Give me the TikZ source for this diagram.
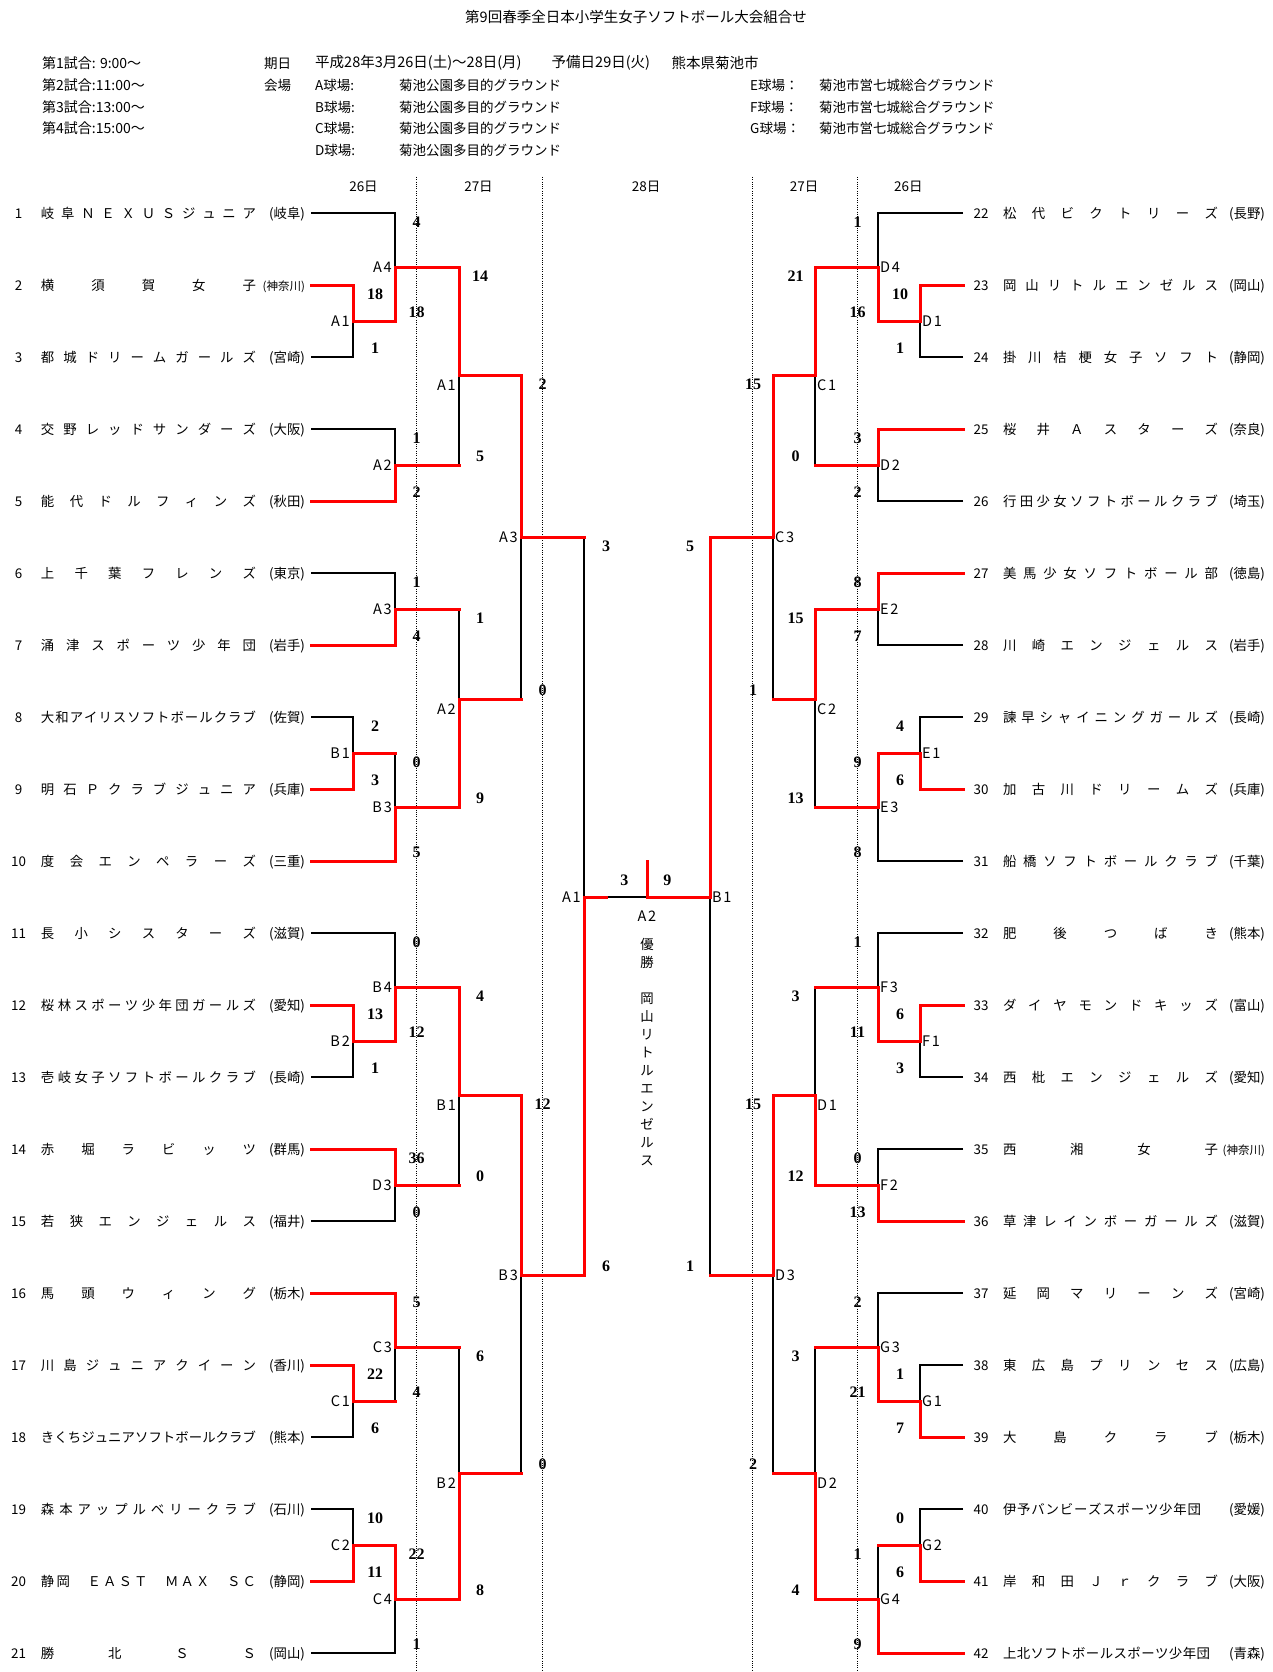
\documentclass[tikz,border=0pt]{standalone}
\usepackage{fontspec}
\setmainfont{Noto Sans CJK JP}
\newfontfamily\scorefont{Liberation Serif}
\newfontfamily\lblfont[LetterSpace=12]{Noto Sans CJK JP}

% spread the letters of a name over the box
\makeatletter
\def\spreadtext#1{\spread@first#1\@nil}
\def\spread@first#1{#1\spread@next}
\def\spread@next#1{\ifx#1\@nil\else\hfill#1\expandafter\spread@next\fi}
\makeatother
\newcommand\smallpref{\fontsize{11.5}{12}\selectfont}
\newcommand\lname[3]{\makebox[299.5pt][s]{\makebox[14pt]{#1}\hspace{15.5pt}\makebox[215pt][s]{\spreadtext{#2}}\hfill#3\hspace{6pt}}}
\newcommand\rname[4][215pt]{\makebox[302pt][s]{\hspace{11pt}\makebox[14pt]{#2}\hspace{15pt}\makebox[#1][s]{\spreadtext{#3}}\hfill#4}}

\begin{document}
\begin{tikzpicture}[x=1pt, y=-1pt,
	won/.style={draw=red, line width=3pt, line cap=rect},
	lost/.style={draw=black, line width=1.7pt},
	guide/.style={draw=black, line width=0.7pt, dash pattern=on 1pt off 1.3pt},
	team/.style={inner sep=0pt, outer sep=0pt, font=\fontsize{13.4}{14}\selectfont, text height=11.8pt, text depth=1.6pt},
	hdr/.style={inner sep=0pt, font=\fontsize{13.5}{16}\selectfont},
	pts/.style={inner sep=0pt, font={\scorefont\bfseries\fontsize{16}{16}\selectfont}},
	lbl/.style={inner sep=0pt, font={\lblfont\fontsize{14.5}{15}\selectfont}},
	lft/.style={label={[lbl, xshift=-3pt]left:#1}},
	lftb/.style={label={[lbl, xshift=-3pt, yshift=-10pt]left:#1}},
	rgt/.style={label={[lbl, xshift=2pt]right:#1}},
	rgtb/.style={label={[lbl, xshift=2pt, yshift=-10pt]right:#1}}]
				\useasboundingbox (0,0) rectangle (1272,1672);
				
				\draw[guide] (416.5,177) -- (416.5,1672);
				\draw[guide] (542,177) -- (542,1672);
				\draw[guide] (752.5,177) -- (752.5,1672);
				\draw[guide] (857.3,177) -- (857.3,1672);
				
				% header
				\node[hdr, font=\fontsize{14.5}{16}\selectfont] (title) at (636,17) {第9回春季全日本小学生女子ソフトボール大会組合せ};
				\node[hdr, anchor=west, font=\fontsize{14}{16}\selectfont] (g1) at (42,63) {第1試合: 9:00～};
				\node[hdr, anchor=west, font=\fontsize{14}{16}\selectfont] (g2) at (42,85) {第2試合:11:00～};
				\node[hdr, anchor=west, font=\fontsize{14}{16}\selectfont] (g3) at (42,107) {第3試合:13:00～};
				\node[hdr, anchor=west, font=\fontsize{14}{16}\selectfont] (g4) at (42,128) {第4試合:15:00～};
				\node[hdr, anchor=west] (when) at (264,63) {期日};
				\node[hdr, anchor=west, font=\fontsize{14.5}{16}\selectfont] (dates) at (315,63) {平成28年3月26日(土)～28日(月)};
				\node[hdr, anchor=west, font=\fontsize{14.5}{16}\selectfont] (spare) at (551.5,63) {予備日29日(火)};
				\node[hdr, anchor=west, font=\fontsize{14.5}{16}\selectfont] (city) at (671.5,63) {熊本県菊池市};
				\node[hdr, anchor=west] (where) at (264,85) {会場};
				\node[hdr, anchor=west] (fa) at (315,85) {A球場:};
				\node[hdr, anchor=west] (fb) at (315,107) {B球場:};
				\node[hdr, anchor=west] (fc) at (315,128) {C球場:};
				\node[hdr, anchor=west] (fd) at (315,150) {D球場:};
				\node[hdr, anchor=west] (pa) at (399,85) {菊池公園多目的グラウンド};
				\node[hdr, anchor=west] (pb) at (399,107) {菊池公園多目的グラウンド};
				\node[hdr, anchor=west] (pc) at (399,128) {菊池公園多目的グラウンド};
				\node[hdr, anchor=west] (pd) at (399,150) {菊池公園多目的グラウンド};
				\node[hdr, anchor=west] (fe) at (750,85) {E球場：};
				\node[hdr, anchor=west] (ff) at (750,107) {F球場：};
				\node[hdr, anchor=west] (fg) at (750,128) {G球場：};
				\node[hdr, anchor=west] (pe) at (819,85) {菊池市営七城総合グラウンド};
				\node[hdr, anchor=west] (pf) at (819,107) {菊池市営七城総合グラウンド};
				\node[hdr, anchor=west] (pg) at (819,128) {菊池市営七城総合グラウンド};
				\node[hdr] (d26l) at (363.5,187) {26日};
				\node[hdr] (d27l) at (478.5,187) {27日};
				\node[hdr] (d28) at (646,187) {28日};
				\node[hdr] (d27r) at (804,187) {27日};
				\node[hdr] (d26r) at (908.4,187) {26日};
				
				% teams, left
				\node[team, anchor=east] (t1) at (311,213) {\lname{1}{岐阜ＮＥＸＵＳジュニア}{(岐阜)}};
				\node[team, anchor=east] (t2) at (311,285) {\lname{2}{横須賀女子}{{\smallpref(神奈川)}}};
				\node[team, anchor=east] (t3) at (311,357) {\lname{3}{都城ドリームガールズ}{(宮崎)}};
				\node[team, anchor=east] (t4) at (311,429) {\lname{4}{交野レッドサンダーズ}{(大阪)}};
				\node[team, anchor=east] (t5) at (311,501) {\lname{5}{能代ドルフィンズ}{(秋田)}};
				\node[team, anchor=east] (t6) at (311,573) {\lname{6}{上千葉フレンズ}{(東京)}};
				\node[team, anchor=east] (t7) at (311,645) {\lname{7}{涌津スポーツ少年団}{(岩手)}};
				\node[team, anchor=east] (t8) at (311,717) {\lname{8}{大和アイリスソフトボールクラブ}{(佐賀)}};
				\node[team, anchor=east] (t9) at (311,789) {\lname{9}{明石Ｐクラブジュニア}{(兵庫)}};
				\node[team, anchor=east] (t10) at (311,861) {\lname{10}{度会エンペラーズ}{(三重)}};
				\node[team, anchor=east] (t11) at (311,933) {\lname{11}{長小シスターズ}{(滋賀)}};
				\node[team, anchor=east] (t12) at (311,1005) {\lname{12}{桜林スポーツ少年団ガールズ}{(愛知)}};
				\node[team, anchor=east] (t13) at (311,1077) {\lname{13}{壱岐女子ソフトボールクラブ}{(長崎)}};
				\node[team, anchor=east] (t14) at (311,1149) {\lname{14}{赤堀ラビッツ}{(群馬)}};
				\node[team, anchor=east] (t15) at (311,1221) {\lname{15}{若狭エンジェルス}{(福井)}};
				\node[team, anchor=east] (t16) at (311,1293) {\lname{16}{馬頭ウィング}{(栃木)}};
				\node[team, anchor=east] (t17) at (311,1365) {\lname{17}{川島ジュニアクイーン}{(香川)}};
				\node[team, anchor=east] (t18) at (311,1437) {\lname{18}{きくちジュニアソフトボールクラブ}{(熊本)}};
				\node[team, anchor=east] (t19) at (311,1509) {\lname{19}{森本アップルベリークラブ}{(石川)}};
				\node[team, anchor=east] (t20) at (311,1581) {\lname{20}{静岡　ＥＡＳＴ　ＭＡＸ　ＳＣ}{(静岡)}};
				\node[team, anchor=east] (t21) at (311,1653) {\lname{21}{勝北ＳＳ}{(岡山)}};
				
				% teams, right
				\node[team, anchor=west] (t22) at (963,213) {\rname{22}{松代ビクトリーズ}{(長野)}};
				\node[team, anchor=west] (t23) at (963,285) {\rname{23}{岡山リトルエンゼルス}{(岡山)}};
				\node[team, anchor=west] (t24) at (963,357) {\rname{24}{掛川桔梗女子ソフト}{(静岡)}};
				\node[team, anchor=west] (t25) at (963,429) {\rname{25}{桜井Ａスターズ}{(奈良)}};
				\node[team, anchor=west] (t26) at (963,501) {\rname{26}{行田少女ソフトボールクラブ}{(埼玉)}};
				\node[team, anchor=west] (t27) at (963,573) {\rname{27}{美馬少女ソフトボール部}{(徳島)}};
				\node[team, anchor=west] (t28) at (963,645) {\rname{28}{川崎エンジェルス}{(岩手)}};
				\node[team, anchor=west] (t29) at (963,717) {\rname{29}{諫早シャイニングガールズ}{(長崎)}};
				\node[team, anchor=west] (t30) at (963,789) {\rname{30}{加古川ドリームズ}{(兵庫)}};
				\node[team, anchor=west] (t31) at (963,861) {\rname{31}{船橋ソフトボールクラブ}{(千葉)}};
				\node[team, anchor=west] (t32) at (963,933) {\rname{32}{肥後つばき}{(熊本)}};
				\node[team, anchor=west] (t33) at (963,1005) {\rname{33}{ダイヤモンドキッズ}{(富山)}};
				\node[team, anchor=west] (t34) at (963,1077) {\rname{34}{西枇エンジェルズ}{(愛知)}};
				\node[team, anchor=west] (t35) at (963,1149) {\rname{35}{西湘女子}{{\smallpref(神奈川)}}};
				\node[team, anchor=west] (t36) at (963,1221) {\rname{36}{草津レインボーガールズ}{(滋賀)}};
				\node[team, anchor=west] (t37) at (963,1293) {\rname{37}{延岡マリーンズ}{(宮崎)}};
				\node[team, anchor=west] (t38) at (963,1365) {\rname{38}{東広島プリンセス}{(広島)}};
				\node[team, anchor=west] (t39) at (963,1437) {\rname{39}{大島クラブ}{(栃木)}};
				\node[team, anchor=west] (t40) at (963,1509) {\rname[198pt]{40}{伊予バンビーズスポーツ少年団}{(愛媛)}};
				\node[team, anchor=west] (t41) at (963,1581) {\rname{41}{岸和田Ｊｒクラブ}{(大阪)}};
				\node[team, anchor=west] (t42) at (963,1653) {\rname[207pt]{42}{上北ソフトボールスポーツ少年団}{(青森)}};
				
				% matches 26日, left
				\coordinate[lft=A1] (A1a) at (353,321);
				\coordinate[lft=A4] (A4a) at (395,267);
				\coordinate[lft=A2] (A2a) at (395,465);
				\coordinate[lft=A3] (A3a) at (395,609);
				\coordinate[lft=B1] (B1a) at (353,753);
				\coordinate[lft=B3] (B3a) at (395,807);
				\coordinate[lft=B4] (B4a) at (395,987);
				\coordinate[lft=B2] (B2a) at (353,1041);
				\coordinate[lft=D3] (D3a) at (395,1185);
				\coordinate[lft=C3] (C3a) at (395,1347);
				\coordinate[lft=C1] (C1a) at (353,1401);
				\coordinate[lft=C2] (C2a) at (353,1545);
				\coordinate[lft=C4] (C4a) at (395,1599);
				% 27日, left
				\coordinate[lftb=A1] (A1b) at (459,375);
				\coordinate[lftb=A2] (A2b) at (459,699);
				\coordinate[lftb=B1] (B1b) at (459,1095);
				\coordinate[lftb=B2] (B2b) at (459,1473);
				\coordinate[lft=A3] (A3b) at (521,537);
				\coordinate[lft=B3] (B3b) at (521,1275);
				% 28日
				\coordinate[lft=A1] (A1c) at (584,897);
				\coordinate (A2c) at (647,897);
				\coordinate[rgt=B1] (B1c) at (710,897);
				% 27日, right
				\coordinate[rgt=C3] (C3b) at (773,537);
				\coordinate[rgt=D3] (D3b) at (773,1275);
				\coordinate[rgtb=C1] (C1b) at (815,375);
				\coordinate[rgtb=C2] (C2b) at (815,699);
				\coordinate[rgtb=D1] (D1b) at (815,1095);
				\coordinate[rgtb=D2] (D2b) at (815,1473);
				% 26日, right
				\coordinate[rgt=D4] (D4a) at (878,267);
				\coordinate[rgt=D1] (D1a) at (920,321);
				\coordinate[rgt=D2] (D2a) at (878,465);
				\coordinate[rgt=E2] (E2a) at (878,609);
				\coordinate[rgt=E1] (E1a) at (920,753);
				\coordinate[rgt=E3] (E3a) at (878,807);
				\coordinate[rgt=F3] (F3a) at (878,987);
				\coordinate[rgt=F1] (F1a) at (920,1041);
				\coordinate[rgt=F2] (F2a) at (878,1185);
				\coordinate[rgt=G3] (G3a) at (878,1347);
				\coordinate[rgt=G1] (G1a) at (920,1401);
				\coordinate[rgt=G2] (G2a) at (920,1545);
				\coordinate[rgt=G4] (G4a) at (878,1599);
				
				% losers
				\draw[lost] (t1) -| (A4a);
				\draw[lost] (t3) -| (A1a);
				\draw[lost] (t4) -| (A2a);
				\draw[lost] (t6) -| (A3a);
				\draw[lost] (t8) -| (B1a);
				\draw[lost] (t11) -| (B4a);
				\draw[lost] (t13) -| (B2a);
				\draw[lost] (t15) -| (D3a);
				\draw[lost] (t18) -| (C1a);
				\draw[lost] (t19) -| (C2a);
				\draw[lost] (t21) -| (C4a);
				\draw[lost] (A2a) -| (A1b);
				\draw[lost] (A3a) -| (A2b);
				\draw[lost] (B1a) -| (B3a);
				\draw[lost] (D3a) -| (B1b);
				\draw[lost] (C1a) -| (C3a);
				\draw[lost] (C3a) -| (B2b);
				\draw[lost] (A2b) -| (A3b);
				\draw[lost] (B2b) -| (B3b);
				\draw[lost] (A3b) -| (A1c);
				\draw[lost] (A1c) -- (A2c);
				\draw[lost] (t22) -| (D4a);
				\draw[lost] (t24) -| (D1a);
				\draw[lost] (t26) -| (D2a);
				\draw[lost] (t28) -| (E2a);
				\draw[lost] (t29) -| (E1a);
				\draw[lost] (t31) -| (E3a);
				\draw[lost] (t32) -| (F3a);
				\draw[lost] (t34) -| (F1a);
				\draw[lost] (t35) -| (F2a);
				\draw[lost] (t37) -| (G3a);
				\draw[lost] (t38) -| (G1a);
				\draw[lost] (t40) -| (G2a);
				\draw[lost] (D2a) -| (C1b);
				\draw[lost] (E3a) -| (C2b);
				\draw[lost] (F3a) -| (D1b);
				\draw[lost] (G3a) -| (D2b);
				\draw[lost] (G2a) -| (G4a);
				\draw[lost] (C2b) -| (C3b);
				\draw[lost] (D2b) -| (D3b);
				\draw[lost] (D3b) -| (B1c);
				
				% winners
				\draw[won] (t2) -| (A1a);
				\draw[won] (t5) -| (A2a);
				\draw[won] (t7) -| (A3a);
				\draw[won] (t9) -| (B1a);
				\draw[won] (t10) -| (B3a);
				\draw[won] (t12) -| (B2a);
				\draw[won] (t14) -| (D3a);
				\draw[won] (t16) -| (C3a);
				\draw[won] (t17) -| (C1a);
				\draw[won] (t20) -| (C2a);
				\draw[won] (A1a) -| (A4a);
				\draw[won] (A4a) -| (A1b);
				\draw[won] (B3a) -| (A2b);
				\draw[won] (B2a) -| (B4a);
				\draw[won] (B4a) -| (B1b);
				\draw[won] (C2a) -| (C4a);
				\draw[won] (C4a) -| (B2b);
				\draw[won] (A1b) -| (A3b);
				\draw[won] (B1b) -| (B3b);
				\draw[won] (B3b) -| (A1c);
				\draw[won] (A2a) -- (A2a -| A1b);
				\draw[won] (A3a) -- (A3a -| A2b);
				\draw[won] (B1a) -- (B1a -| B3a);
				\draw[won] (D3a) -- (D3a -| B1b);
				\draw[won] (C1a) -- (C1a -| C3a);
				\draw[won] (C3a) -- (C3a -| B2b);
				\draw[won] (A2b) -- (A2b -| A3b);
				\draw[won] (B2b) -- (B2b -| B3b);
				\draw[won] (A3b) -- (A3b -| A1c);
				\draw[won] (t23) -| (D1a);
				\draw[won] (t25) -| (D2a);
				\draw[won] (t27) -| (E2a);
				\draw[won] (t30) -| (E1a);
				\draw[won] (t33) -| (F1a);
				\draw[won] (t36) -| (F2a);
				\draw[won] (t39) -| (G1a);
				\draw[won] (t41) -| (G2a);
				\draw[won] (t42) -| (G4a);
				\draw[won] (D1a) -| (D4a);
				\draw[won] (D4a) -| (C1b);
				\draw[won] (E2a) -| (C2b);
				\draw[won] (E1a) -| (E3a);
				\draw[won] (F1a) -| (F3a);
				\draw[won] (F2a) -| (D1b);
				\draw[won] (G1a) -| (G3a);
				\draw[won] (G4a) -| (D2b);
				\draw[won] (C1b) -| (C3b);
				\draw[won] (D1b) -| (D3b);
				\draw[won] (C3b) -| (B1c);
				\draw[won] (D2a) -- (D2a -| C1b);
				\draw[won] (E3a) -- (E3a -| C2b);
				\draw[won] (F3a) -- (F3a -| D1b);
				\draw[won] (G3a) -- (G3a -| D2b);
				\draw[won] (G2a) -- (G2a -| G4a);
				\draw[won] (C2b) -- (C2b -| C3b);
				\draw[won] (D2b) -- (D2b -| D3b);
				\draw[won] (D3b) -- (D3b -| B1c);
				% final
				\draw[won] (A1c) -- ++(22,0);
				\draw[won] (B1c) -- (A2c) -- ++(0,-36);
				
				% scores, left
				\node[pts] (A1a-u) at (375,294) {18}; \node[pts] (A1a-d) at (375,348) {1};
				\node[pts] (A4a-u) at (416.5,222) {4}; \node[pts] (A4a-d) at (416.5,312) {18};
				\node[pts] (A2a-u) at (416.5,438) {1}; \node[pts] (A2a-d) at (416.5,492) {2};
				\node[pts] (A3a-u) at (416.5,582) {1}; \node[pts] (A3a-d) at (416.5,636) {4};
				\node[pts] (B1a-u) at (375,726) {2}; \node[pts] (B1a-d) at (375,780) {3};
				\node[pts] (B3a-u) at (416.5,762) {0}; \node[pts] (B3a-d) at (416.5,852) {5};
				\node[pts] (B2a-u) at (375,1014) {13}; \node[pts] (B2a-d) at (375,1068) {1};
				\node[pts] (B4a-u) at (416.5,942) {0}; \node[pts] (B4a-d) at (416.5,1032) {12};
				\node[pts] (D3a-u) at (416.5,1158) {36}; \node[pts] (D3a-d) at (416.5,1212) {0};
				\node[pts] (C1a-u) at (375,1374) {22}; \node[pts] (C1a-d) at (375,1428) {6};
				\node[pts] (C3a-u) at (416.5,1302) {5}; \node[pts] (C3a-d) at (416.5,1392) {4};
				\node[pts] (C2a-u) at (375,1518) {10}; \node[pts] (C2a-d) at (375,1572) {11};
				\node[pts] (C4a-u) at (416.5,1554) {22}; \node[pts] (C4a-d) at (416.5,1644) {1};
				\node[pts] (A1b-u) at (480,276) {14}; \node[pts] (A1b-d) at (480,456) {5};
				\node[pts] (A2b-u) at (480,618) {1}; \node[pts] (A2b-d) at (480,798) {9};
				\node[pts] (B1b-u) at (480,996) {4}; \node[pts] (B1b-d) at (480,1176) {0};
				\node[pts] (B2b-u) at (480,1356) {6}; \node[pts] (B2b-d) at (480,1590) {8};
				\node[pts] (A3b-u) at (542.5,384) {2}; \node[pts] (A3b-d) at (542.5,690) {0};
				\node[pts] (B3b-u) at (542.5,1104) {12}; \node[pts] (B3b-d) at (542.5,1464) {0};
				\node[pts] (A1c-u) at (606,546) {3}; \node[pts] (A1c-d) at (606,1266) {6};
				% scores, final
				\node[pts] (A2c-l) at (624.3,880) {3}; \node[pts] (A2c-r) at (667.3,880) {9};
				% scores, right
				\node[pts] (D1a-u) at (900,294) {10}; \node[pts] (D1a-d) at (900,348) {1};
				\node[pts] (D4a-u) at (857.5,222) {1}; \node[pts] (D4a-d) at (857.5,312) {16};
				\node[pts] (D2a-u) at (857.5,438) {3}; \node[pts] (D2a-d) at (857.5,492) {2};
				\node[pts] (E2a-u) at (857.5,582) {8}; \node[pts] (E2a-d) at (857.5,636) {7};
				\node[pts] (E1a-u) at (900,726) {4}; \node[pts] (E1a-d) at (900,780) {6};
				\node[pts] (E3a-u) at (857.5,762) {9}; \node[pts] (E3a-d) at (857.5,852) {8};
				\node[pts] (F1a-u) at (900,1014) {6}; \node[pts] (F1a-d) at (900,1068) {3};
				\node[pts] (F3a-u) at (857.5,942) {1}; \node[pts] (F3a-d) at (857.5,1032) {11};
				\node[pts] (F2a-u) at (857.5,1158) {0}; \node[pts] (F2a-d) at (857.5,1212) {13};
				\node[pts] (G1a-u) at (900,1374) {1}; \node[pts] (G1a-d) at (900,1428) {7};
				\node[pts] (G3a-u) at (857.5,1302) {2}; \node[pts] (G3a-d) at (857.5,1392) {21};
				\node[pts] (G2a-u) at (900,1518) {0}; \node[pts] (G2a-d) at (900,1572) {6};
				\node[pts] (G4a-u) at (857.5,1554) {1}; \node[pts] (G4a-d) at (857.5,1644) {9};
				\node[pts] (C1b-u) at (795.5,276) {21}; \node[pts] (C1b-d) at (795.5,456) {0};
				\node[pts] (C2b-u) at (795.5,618) {15}; \node[pts] (C2b-d) at (795.5,798) {13};
				\node[pts] (D1b-u) at (795.5,996) {3}; \node[pts] (D1b-d) at (795.5,1176) {12};
				\node[pts] (D2b-u) at (795.5,1356) {3}; \node[pts] (D2b-d) at (795.5,1590) {4};
				\node[pts] (C3b-u) at (753,384) {15}; \node[pts] (C3b-d) at (753,690) {1};
				\node[pts] (D3b-u) at (753,1104) {15}; \node[pts] (D3b-d) at (753,1464) {2};
				\node[pts] (B1c-u) at (690,546) {5}; \node[pts] (B1c-d) at (690,1266) {1};
				
				\node[lbl] (A2lab) at (647,916) {A2};
				\node[hdr, anchor=north, align=center, font=\fontsize{13.4}{18}\selectfont] (champ) at (647,938) {優\\勝\\[18pt]岡\\山\\リ\\ト\\ル\\エ\\ン\\ゼ\\ル\\ス};
			\end{tikzpicture}
\end{document}
